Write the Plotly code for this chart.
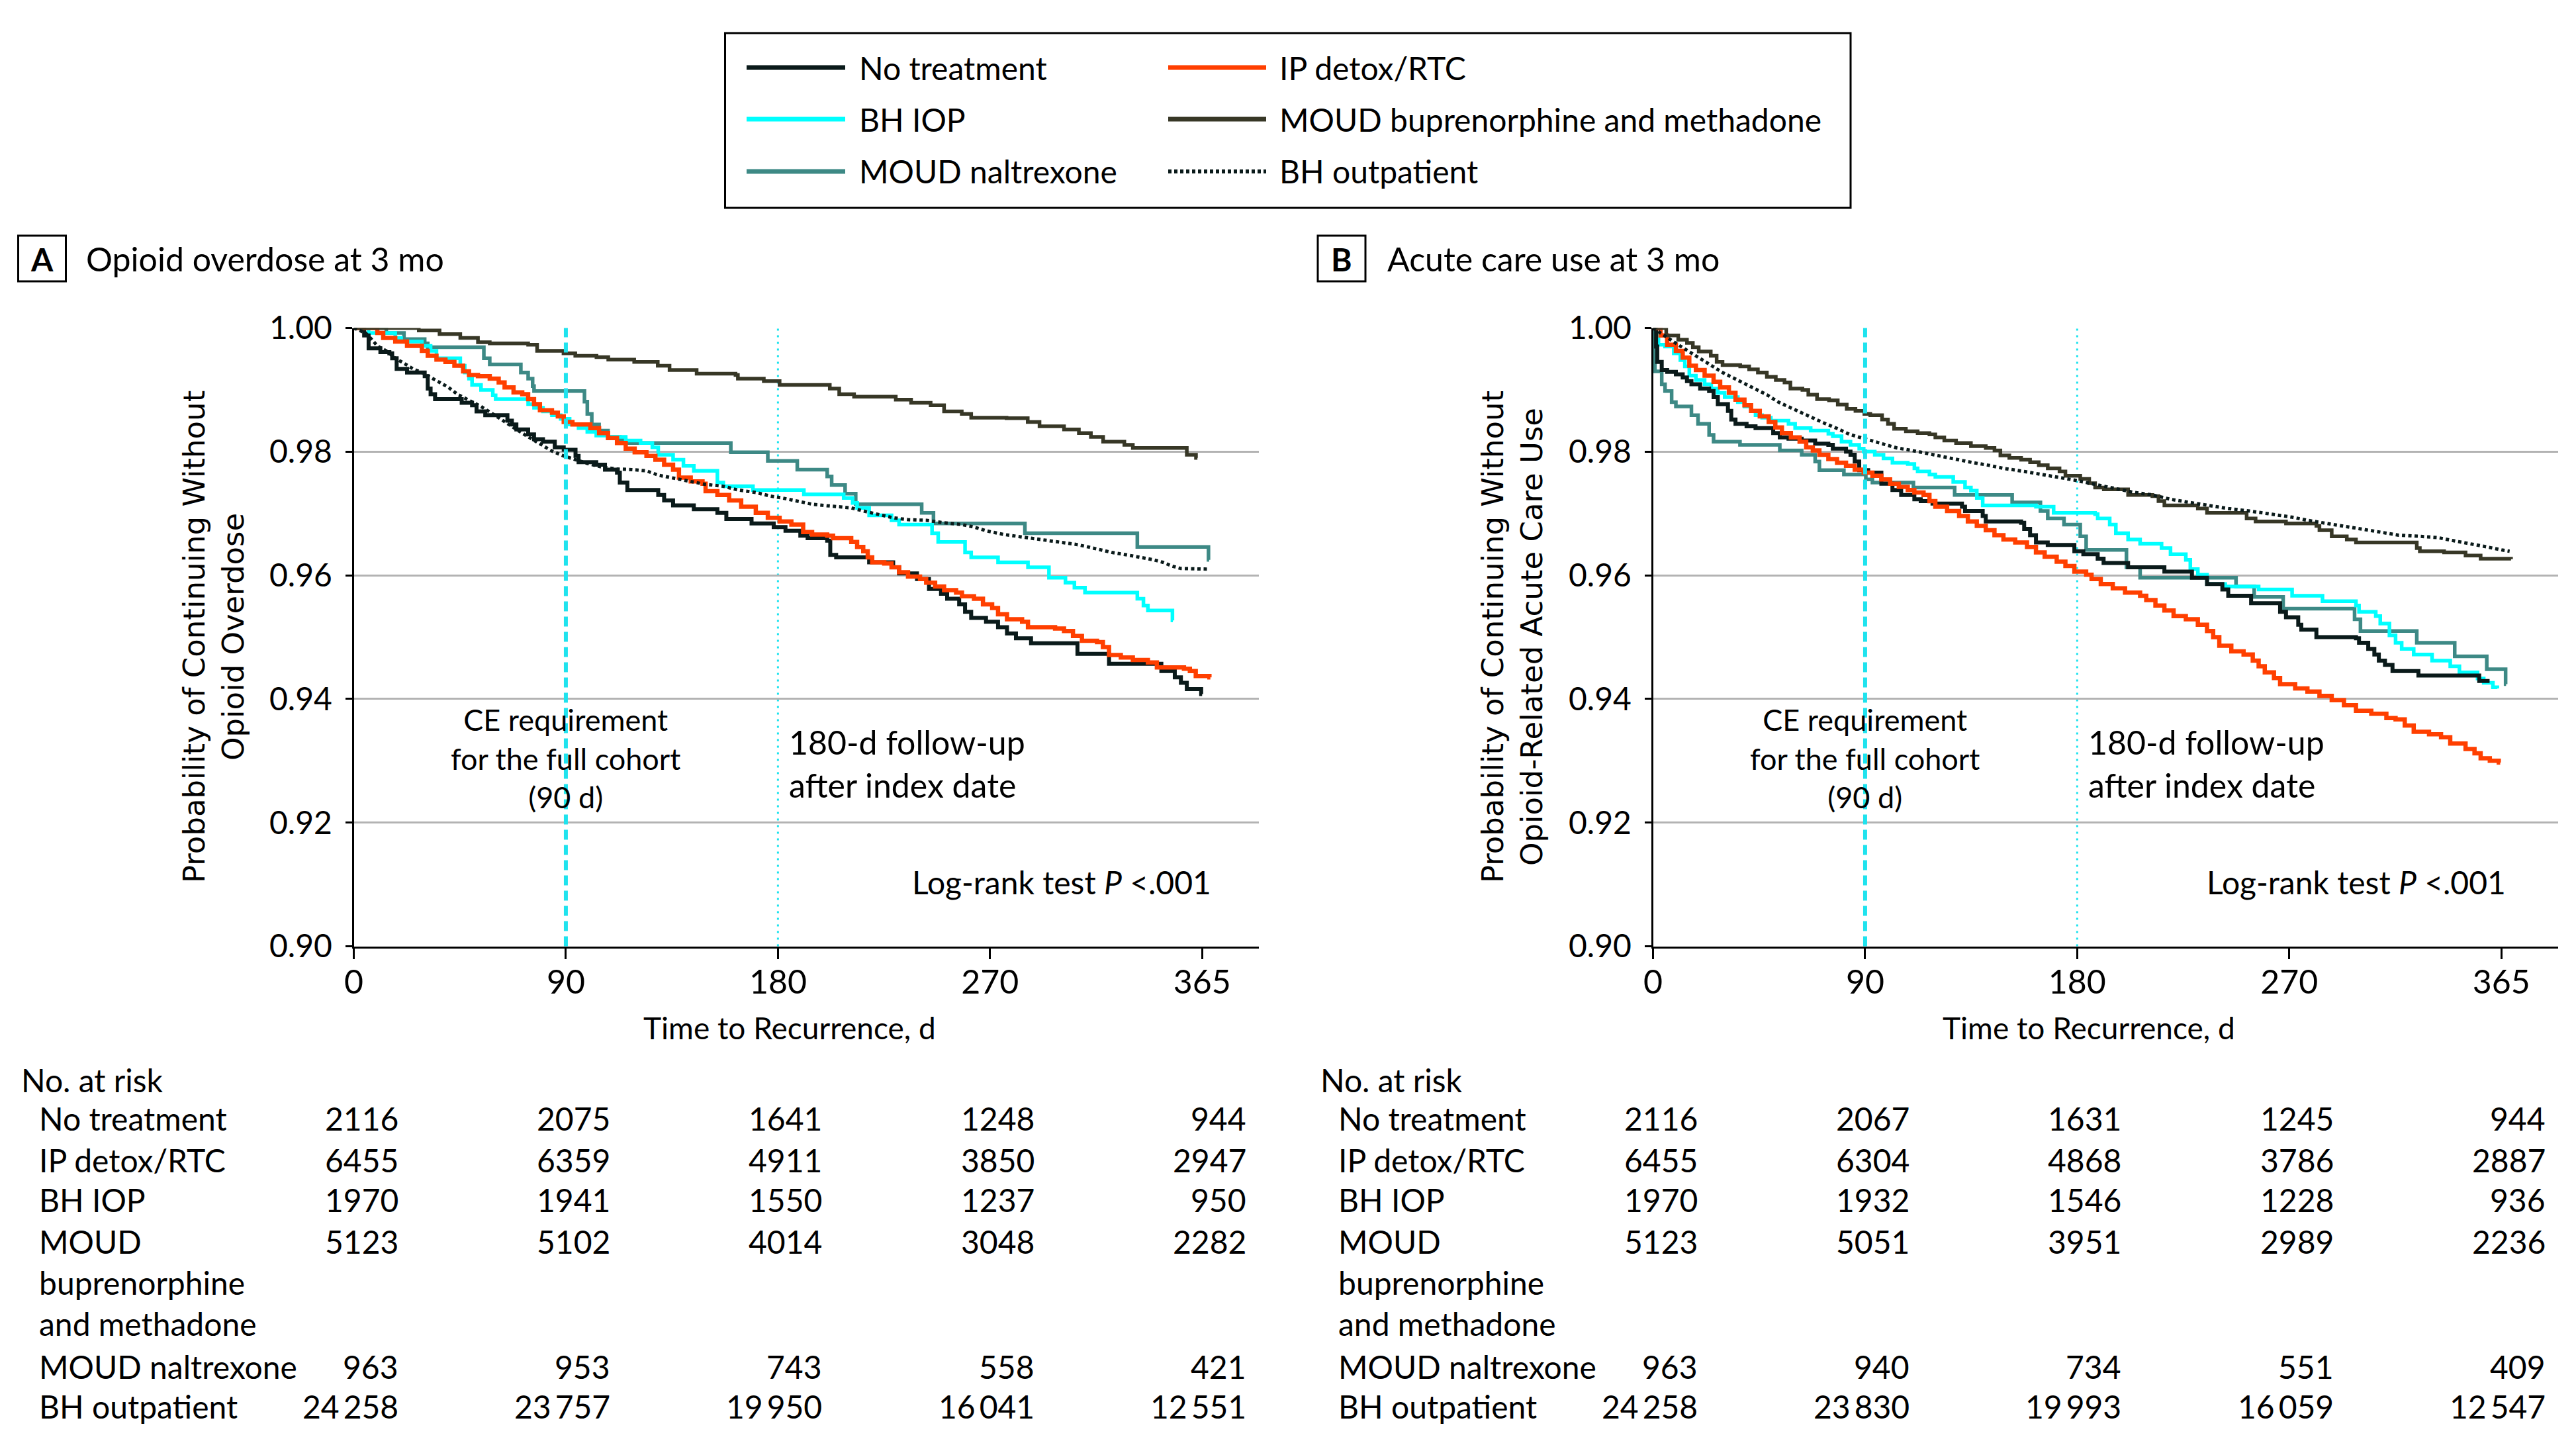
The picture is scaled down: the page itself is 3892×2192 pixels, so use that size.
import plotly.graph_objects as go

W, H = 3892, 2192
OFF = 8  # page offset of the figure inside the browser window

# ---------------- series meta ----------------
series_names = ["No treatment", "IP detox/RTC", "BH IOP",
                "MOUD buprenorphine and methadone", "MOUD naltrexone", "BH outpatient"]
series_colors = ["#0a1a1a", "#ff3f00", "#00ffff", "#373726", "#3d8985", "#0a1a1a"]

# ---------------- Panel A: opioid overdose (time in days, survival) ----------------
a_none_t = [0, 4.4, 6.3, 11.3, 15.1, 16.3, 18.2, 22.6, 30.1, 31.4, 32.6, 34.5, 45.8, 50.2, 52.1, 55.8,
            65.2, 67.1, 69.0, 74.0, 76.5, 80.3, 85.3, 89.1, 94.1, 95.4, 102.9, 106.6, 111.7, 112.9,
            116.1, 129.2, 131.7, 135.5, 144.3, 154.3, 158.1, 168.8, 178.2, 183.2, 189.5, 192.6,
            200.9, 202.2, 204.7, 218.7, 228.9, 231.4, 239.0, 244.1, 249.2, 251.8, 256.9, 259.4,
            262.0, 268.3, 273.4, 277.2, 281.0, 287.4, 307.1, 320.5, 342.7, 348.4, 351.0, 353.5,
            359.6, 360.0]
a_none_s = [1.0, 0.9988, 0.9967, 0.9961, 0.9959, 0.9951, 0.9934, 0.9928, 0.9922, 0.9902, 0.9893,
            0.9885, 0.9879, 0.9875, 0.9865, 0.9859, 0.9850, 0.9844, 0.9836, 0.9828, 0.9820, 0.9816,
            0.9807, 0.9803, 0.9793, 0.9783, 0.9779, 0.9771, 0.9766, 0.9750, 0.9738, 0.9730, 0.9721,
            0.9713, 0.9707, 0.9701, 0.9691, 0.9684, 0.9678, 0.9672, 0.9664, 0.9660, 0.9656, 0.9633,
            0.9629, 0.9621, 0.9613, 0.9603, 0.9594, 0.9578, 0.9570, 0.9562, 0.9553, 0.9541, 0.9531,
            0.9525, 0.9516, 0.9506, 0.9498, 0.9490, 0.9473, 0.9457, 0.9445, 0.9435, 0.9426, 0.9416,
            0.9408, 0.9408]

a_ip_t = [0, 10.0, 12.5, 17.6, 22.6, 28.9, 31.4, 35.1, 38.9, 42.7, 46.4, 48.9, 52.7, 57.7, 61.5,
          64.0, 67.8, 71.5, 74.0, 76.5, 79.0, 84.1, 86.6, 89.1, 92.8, 100.4, 104.1, 107.9, 111.7,
          115.4, 119.2, 124.2, 128.0, 131.7, 135.5, 138.0, 143.0, 148.0, 149.3, 154.3, 159.3, 164.4,
          170.6, 175.7, 180.7, 185.7, 190.7, 194.5, 200.9, 203.4, 211.1, 213.6, 216.2, 218.1, 220.0,
          225.1, 228.2, 231.4, 235.2, 240.3, 242.9, 246.7, 250.5, 255.6, 258.1, 263.2, 267.0, 270.9,
          273.4, 277.2, 283.6, 286.1, 297.6, 301.4, 305.2, 309.0, 315.4, 317.9, 320.5, 325.5, 330.6,
          337.0, 340.8, 352.3, 354.8, 357.3, 363.1, 363.5]
a_ip_s = [1.0, 0.9992, 0.9984, 0.9978, 0.9971, 0.9963, 0.9955, 0.9949, 0.9945, 0.9939, 0.9930,
          0.9924, 0.9922, 0.9918, 0.9912, 0.9904, 0.9896, 0.9893, 0.9885, 0.9877, 0.9867, 0.9863,
          0.9857, 0.9848, 0.9844, 0.9838, 0.9830, 0.9822, 0.9814, 0.9805, 0.9799, 0.9793, 0.9787,
          0.9779, 0.9771, 0.9758, 0.9752, 0.9748, 0.9736, 0.9730, 0.9721, 0.9711, 0.9701, 0.9693,
          0.9687, 0.9682, 0.9670, 0.9666, 0.9664, 0.9660, 0.9654, 0.9646, 0.9639, 0.9629, 0.9621,
          0.9619, 0.9613, 0.9605, 0.9598, 0.9594, 0.9588, 0.9582, 0.9576, 0.9572, 0.9566, 0.9562,
          0.9553, 0.9547, 0.9537, 0.9529, 0.9525, 0.9516, 0.9514, 0.9510, 0.9502, 0.9494, 0.9492,
          0.9484, 0.9471, 0.9467, 0.9463, 0.9459, 0.9451, 0.9449, 0.9445, 0.9437, 0.9435, 0.9435]

a_iop_t = [0, 6.3, 17.6, 20.1, 28.9, 32.6, 35.1, 45.2, 47.1, 48.9, 50.2, 54.0, 59.0, 60.2, 74.0,
           76.5, 80.3, 84.1, 87.8, 91.6, 95.4, 99.1, 102.9, 107.9, 115.4, 121.7, 126.7, 129.2, 135.5,
           139.9, 144.3, 154.3, 156.8, 169.4, 191.0, 207.9, 211.7, 213.6, 218.7, 228.2, 231.4, 245.4,
           248.0, 259.4, 262.0, 273.4, 286.1, 295.0, 302.0, 305.8, 310.3, 332.5, 335.1, 337.0, 347.4,
           347.6]
a_iop_s = [1.0, 0.9992, 0.9984, 0.9978, 0.9971, 0.9963, 0.9951, 0.9939, 0.9928, 0.9918, 0.9908,
           0.9900, 0.9891, 0.9885, 0.9877, 0.9871, 0.9865, 0.9859, 0.9853, 0.9844, 0.9838, 0.9832,
           0.9826, 0.9824, 0.9818, 0.9814, 0.9807, 0.9795, 0.9787, 0.9777, 0.9769, 0.9750, 0.9744,
           0.9738, 0.9731, 0.9725, 0.9717, 0.9709, 0.9697, 0.9689, 0.9682, 0.9668, 0.9654, 0.9637,
           0.9629, 0.9621, 0.9613, 0.9596, 0.9588, 0.9580, 0.9572, 0.9562, 0.9551, 0.9543, 0.9527,
           0.9527]

a_bup_t = [0, 27.6, 36.4, 45.2, 52.7, 57.7, 74.0, 77.8, 89.0, 94.0, 103.0, 108.0, 119.0, 129.0,
           134.0, 145.5, 162.0, 163.0, 174.0, 180.7, 202.0, 206.0, 212.3, 230.0, 236.5, 244.8, 250.5,
           258.0, 262.0, 277.0, 286.0, 291.0, 301.4, 307.7, 312.8, 318.0, 327.0, 330.6, 353.5, 357.4,
           358.0]
a_bup_s = [1.0, 0.9996, 0.9990, 0.9984, 0.9977, 0.9975, 0.9973, 0.9963, 0.9959, 0.9955, 0.9953,
           0.9949, 0.9945, 0.9939, 0.9932, 0.9926, 0.9924, 0.9918, 0.9914, 0.9908, 0.9902, 0.9893,
           0.9889, 0.9884, 0.9879, 0.9875, 0.9865, 0.9861, 0.9855, 0.9854, 0.9848, 0.9841, 0.9836,
           0.9830, 0.9824, 0.9816, 0.9811, 0.9806, 0.9795, 0.9790, 0.9790]

a_nal_t = [0, 13.8, 21.3, 30.1, 31.4, 55.2, 57.7, 70.9, 74.0, 75.9, 76.5, 97.9, 99.1, 101.0, 104.1,
           107.9, 112.9, 115.4, 160.0, 175.7, 188.2, 200.9, 202.8, 208.5, 213.0, 241.0, 246.0, 284.8,
           332.5, 362.7, 363.0]
a_nal_s = [1.0, 0.9992, 0.9982, 0.9975, 0.9969, 0.9951, 0.9941, 0.9928, 0.9918, 0.9906, 0.9898,
           0.9881, 0.9861, 0.9844, 0.9834, 0.9824, 0.9820, 0.9814, 0.9799, 0.9785, 0.9771, 0.9760,
           0.9746, 0.9732, 0.9715, 0.9701, 0.9684, 0.9668, 0.9646, 0.9625, 0.9625]

a_out_t = [0, 5.0, 7.5, 10.0, 13.8, 17.6, 21.3, 25.1, 28.9, 32.6, 36.4, 40.2, 43.9, 48.9, 54.0, 59.0,
           64.0, 69.0, 74.0, 79.0, 84.1, 89.1, 94.1, 99.1, 105.4, 111.7, 117.9, 124.2, 129.2, 134.3,
           139.3, 144.3, 149.3, 156.8, 163.1, 170.6, 176.9, 181.9, 189.5, 194.5, 199.6, 206.0, 211.1,
           217.4, 222.5, 228.9, 235.2, 242.9, 250.5, 258.1, 263.2, 268.3, 275.9, 283.6, 291.2, 298.8,
           306.5, 311.5, 316.6, 321.7, 328.1, 334.5, 339.5, 343.4, 347.2, 351.0, 362.4]
a_out_s = [1.0, 0.9992, 0.9982, 0.9971, 0.9963, 0.9951, 0.9943, 0.9934, 0.9928, 0.9920, 0.9912,
           0.9904, 0.9893, 0.9883, 0.9873, 0.9861, 0.9848, 0.9836, 0.9824, 0.9812, 0.9801, 0.9793,
           0.9787, 0.9781, 0.9775, 0.9772, 0.9771, 0.9769, 0.9762, 0.9758, 0.9754, 0.9750, 0.9747,
           0.9744, 0.9738, 0.9734, 0.9728, 0.9725, 0.9719, 0.9715, 0.9713, 0.9711, 0.9709, 0.9703,
           0.9699, 0.9693, 0.9690, 0.9689, 0.9685, 0.9682, 0.9678, 0.9672, 0.9666, 0.9662, 0.9658,
           0.9654, 0.9650, 0.9646, 0.9641, 0.9637, 0.9633, 0.9629, 0.9625, 0.9621, 0.9615, 0.9611,
           0.9610]

# ---------------- Panel B: acute care use ----------------
b_none_t = [0, 1.3, 1.8, 3.7, 6.0, 9.7, 12.6, 14.4, 16.3, 20.0, 23.8, 25.7, 27.5, 31.8, 33.2, 35.0,
            39.7, 43.5, 51.0, 53.8, 57.5, 63.1, 68.8, 74.4, 76.3, 81.9, 83.8, 85.6, 87.5, 91.3, 96.9,
            101.6, 105.3, 110.9, 113.6, 118.6, 131.1, 132.4, 139.9, 141.2, 156.2, 157.5, 160.0,
            162.5, 167.5, 178.8, 182.6, 188.7, 191.2, 201.6, 217.0, 228.7, 235.1, 241.6, 244.1,
            253.8, 266.1, 268.6, 273.8, 275.1, 281.5, 298.3, 299.6, 303.5, 306.1, 308.0, 310.6,
            313.8, 324.8, 350.6, 355.0]
b_none_s = [1.0, 0.9970, 0.9945, 0.9932, 0.9929, 0.9925, 0.9920, 0.9914, 0.9909, 0.9902, 0.9898,
            0.9888, 0.9877, 0.9866, 0.9852, 0.9845, 0.9841, 0.9838, 0.9830, 0.9823, 0.9821, 0.9818,
            0.9813, 0.9811, 0.9805, 0.9800, 0.9795, 0.9784, 0.9770, 0.9766, 0.9748, 0.9738, 0.9730,
            0.9723, 0.9720, 0.9716, 0.9711, 0.9704, 0.9696, 0.9687, 0.9685, 0.9675, 0.9665, 0.9653,
            0.9649, 0.9639, 0.9634, 0.9627, 0.9620, 0.9613, 0.9606, 0.9596, 0.9586, 0.9577, 0.9567,
            0.9555, 0.9541, 0.9532, 0.9520, 0.9512, 0.9500, 0.9498, 0.9491, 0.9481, 0.9472, 0.9462,
            0.9455, 0.9445, 0.9438, 0.9429, 0.9429]

b_ip_t = [0, 3.2, 6.0, 9.7, 12.6, 15.4, 18.2, 21.9, 25.7, 28.5, 32.2, 35.0, 38.8, 41.6, 45.3, 49.1,
          51.9, 54.7, 58.5, 62.2, 65.0, 67.8, 70.6, 74.4, 78.1, 81.9, 85.6, 89.4, 93.1, 96.9, 100.6,
          104.3, 108.1, 110.9, 114.8, 117.3, 119.8, 124.8, 129.9, 133.6, 137.4, 141.2, 144.9, 148.7,
          153.7, 158.7, 162.5, 166.2, 171.3, 175.0, 178.8, 183.8, 186.1, 190.0, 195.1, 200.3, 206.7,
          209.3, 213.2, 217.0, 220.9, 226.1, 231.2, 235.1, 237.7, 240.3, 245.4, 250.6, 254.5, 257.0,
          259.6, 263.5, 266.1, 272.5, 277.7, 282.8, 288.0, 293.2, 298.3, 304.8, 311.2, 315.1, 319.0,
          322.8, 329.3, 334.4, 338.3, 344.8, 348.6, 351.2, 355.1, 358.9, 359.5]
b_ip_s = [1.0, 0.9988, 0.9973, 0.9963, 0.9952, 0.9939, 0.9932, 0.9923, 0.9913, 0.9904, 0.9895,
          0.9884, 0.9875, 0.9866, 0.9857, 0.9848, 0.9839, 0.9830, 0.9823, 0.9816, 0.9807, 0.9802,
          0.9795, 0.9788, 0.9782, 0.9777, 0.9771, 0.9766, 0.9761, 0.9755, 0.9748, 0.9743, 0.9738,
          0.9734, 0.9730, 0.9720, 0.9711, 0.9704, 0.9696, 0.9687, 0.9680, 0.9673, 0.9665, 0.9658,
          0.9653, 0.9646, 0.9637, 0.9630, 0.9622, 0.9615, 0.9606, 0.9601, 0.9594, 0.9586, 0.9579,
          0.9572, 0.9567, 0.9560, 0.9551, 0.9543, 0.9534, 0.9529, 0.9520, 0.9510, 0.9500, 0.9486,
          0.9477, 0.9472, 0.9462, 0.9453, 0.9443, 0.9434, 0.9424, 0.9417, 0.9412, 0.9405, 0.9398,
          0.9390, 0.9381, 0.9376, 0.9369, 0.9367, 0.9357, 0.9347, 0.9343, 0.9338, 0.9328, 0.9319,
          0.9312, 0.9304, 0.9300, 0.9297, 0.9297]

b_iop_t = [0, 1.3, 2.3, 5.1, 8.8, 11.6, 13.5, 15.4, 18.2, 21.9, 24.7, 27.5, 30.4, 36.0, 38.8, 41.6,
           43.5, 46.3, 50.0, 57.5, 60.3, 66.9, 74.4, 76.3, 80.0, 83.8, 87.5, 89.4, 94.1, 97.8, 101.6,
           108.1, 110.9, 112.3, 117.3, 119.8, 127.4, 132.4, 134.9, 137.4, 139.9, 162.5, 170.0, 187.6,
           188.7, 193.8, 196.4, 201.6, 206.7, 215.8, 219.6, 226.1, 228.0, 231.2, 235.1, 242.8, 257.0,
           271.2, 284.1, 298.3, 299.6, 306.7, 308.6, 312.5, 315.1, 317.7, 322.8, 330.6, 338.3, 342.2,
           349.9, 352.5, 356.4, 358.3]
b_iop_s = [1.0, 0.9988, 0.9973, 0.9970, 0.9959, 0.9948, 0.9938, 0.9923, 0.9916, 0.9909, 0.9902,
           0.9895, 0.9888, 0.9880, 0.9873, 0.9866, 0.9859, 0.9855, 0.9850, 0.9845, 0.9838, 0.9834,
           0.9829, 0.9825, 0.9816, 0.9811, 0.9805, 0.9800, 0.9795, 0.9789, 0.9782, 0.9780, 0.9773,
           0.9768, 0.9763, 0.9759, 0.9751, 0.9742, 0.9737, 0.9725, 0.9713, 0.9711, 0.9701, 0.9699,
           0.9692, 0.9682, 0.9668, 0.9658, 0.9651, 0.9644, 0.9634, 0.9625, 0.9610, 0.9601, 0.9586,
           0.9582, 0.9577, 0.9567, 0.9558, 0.9551, 0.9541, 0.9534, 0.9522, 0.9503, 0.9491, 0.9481,
           0.9472, 0.9462, 0.9453, 0.9443, 0.9433, 0.9426, 0.9419, 0.9417]

b_bup_t = [0, 5.6, 10.7, 14.4, 16.9, 19.4, 24.5, 27.0, 29.5, 37.0, 40.8, 44.5, 48.3, 52.1, 55.8,
           58.3, 63.4, 65.9, 69.6, 74.7, 78.4, 82.2, 85.9, 89.7, 92.2, 97.2, 99.7, 102.3, 107.3,
           112.3, 117.3, 119.8, 123.6, 128.6, 134.9, 141.2, 144.9, 147.4, 151.2, 156.2, 160.0, 163.7,
           167.5, 172.5, 175.0, 181.3, 185.1, 187.6, 191.3, 201.6, 211.9, 214.5, 217.0, 231.2, 235.1,
           251.9, 255.7, 268.6, 281.5, 282.8, 288.0, 294.4, 298.3, 324.1, 325.4, 335.7, 344.8, 351.2,
           364.1]
b_bup_s = [1.0, 0.9988, 0.9981, 0.9976, 0.9969, 0.9962, 0.9955, 0.9945, 0.9940, 0.9938, 0.9933,
           0.9928, 0.9921, 0.9916, 0.9912, 0.9902, 0.9900, 0.9892, 0.9885, 0.9883, 0.9876, 0.9869,
           0.9866, 0.9861, 0.9859, 0.9852, 0.9845, 0.9837, 0.9833, 0.9830, 0.9828, 0.9823, 0.9818,
           0.9814, 0.9809, 0.9806, 0.9802, 0.9794, 0.9790, 0.9787, 0.9783, 0.9778, 0.9773, 0.9768,
           0.9761, 0.9756, 0.9749, 0.9742, 0.9739, 0.9730, 0.9728, 0.9720, 0.9713, 0.9708, 0.9701,
           0.9692, 0.9687, 0.9684, 0.9680, 0.9673, 0.9663, 0.9658, 0.9653, 0.9644, 0.9639, 0.9637,
           0.9632, 0.9627, 0.9626]

b_nal_t = [0, 0.8, 3.7, 5.1, 7.9, 9.7, 16.3, 19.1, 23.8, 25.7, 36.9, 53.8, 63.1, 68.8, 70.6, 81.0,
           90.3, 93.1, 110.5, 128.0, 152.4, 164.4, 167.5, 174.4, 181.3, 183.8, 200.9, 206.7, 247.4,
           255.1, 267.4, 297.7, 300.2, 324.1, 340.2, 353.8, 361.8, 362.0]
b_nal_s = [1.0, 0.9930, 0.9909, 0.9898, 0.9880, 0.9873, 0.9859, 0.9845, 0.9827, 0.9816, 0.9811,
           0.9802, 0.9795, 0.9784, 0.9770, 0.9763, 0.9755, 0.9750, 0.9742, 0.9730, 0.9718, 0.9704,
           0.9692, 0.9682, 0.9663, 0.9641, 0.9613, 0.9596, 0.9582, 0.9565, 0.9546, 0.9529, 0.9510,
           0.9491, 0.9469, 0.9448, 0.9424, 0.9424]

b_out_t = [0, 4.4, 9.4, 14.4, 19.4, 24.5, 29.5, 35.8, 42.0, 48.3, 53.3, 59.6, 65.9, 72.1, 78.4, 83.4,
           89.7, 96.0, 103.5, 109.8, 116.0, 123.6, 129.9, 136.1, 142.4, 148.7, 157.5, 165.0, 172.5,
           178.8, 185.1, 193.8, 202.9, 211.9, 219.6, 227.4, 235.1, 244.1, 253.2, 263.5, 271.2, 277.7,
           285.4, 293.2, 299.6, 307.3, 316.4, 325.4, 333.1, 339.6, 347.3, 353.8, 360.2, 363.5]
b_out_s = [1.0, 0.9988, 0.9976, 0.9964, 0.9952, 0.9940, 0.9928, 0.9916, 0.9904, 0.9892, 0.9880,
           0.9869, 0.9857, 0.9847, 0.9837, 0.9828, 0.9821, 0.9814, 0.9806, 0.9802, 0.9797, 0.9792,
           0.9787, 0.9782, 0.9778, 0.9773, 0.9768, 0.9763, 0.9759, 0.9754, 0.9749, 0.9742, 0.9735,
           0.9730, 0.9723, 0.9718, 0.9713, 0.9708, 0.9704, 0.9699, 0.9694, 0.9689, 0.9684, 0.9680,
           0.9675, 0.9670, 0.9665, 0.9663, 0.9661, 0.9656, 0.9651, 0.9646, 0.9641, 0.9639]

# ---------------- axis ticks ----------------
# the last tick, labelled "365", sits where day 360 falls on the drawn scale (as in the source figure)
x_ticks = [0, 90, 180, 270, 360]
x_tick_text = ["0", "90", "180", "270", "365"]
y_ticks = [0.90, 0.92, 0.94, 0.96, 0.98, 1.00]

# ---------------- number at risk ----------------
risk_times = x_ticks
risk_a = [[2116, 2075, 1641, 1248, 944],
          [6455, 6359, 4911, 3850, 2947],
          [1970, 1941, 1550, 1237, 950],
          [5123, 5102, 4014, 3048, 2282],
          [963, 953, 743, 558, 421],
          [24258, 23757, 19950, 16041, 12551]]
risk_b = [[2116, 2067, 1631, 1245, 944],
          [6455, 6304, 4868, 3786, 2887],
          [1970, 1932, 1546, 1228, 936],
          [5123, 5051, 3951, 2989, 2236],
          [963, 940, 734, 551, 409],
          [24258, 23830, 19993, 16059, 12547]]
risk_row_labels = ["No treatment", "IP detox/RTC", "BH IOP", "MOUD", "buprenorphine",
                   "and methadone", "MOUD naltrexone", "BH outpatient"]
risk_series_row = [0, 1, 2, 3, 6, 7]

# ---------------- styling ----------------
FONT = "Lato, 'Liberation Sans', Arial, sans-serif"
TITLE_FONT = "'DejaVu Sans', Verdana, sans-serif"
REF_CYAN = "#1fe3ee"
styles = [
    dict(width=6, dash="solid", shape="hv"),
    dict(width=6.5, dash="solid", shape="hv"),
    dict(width=5.5, dash="solid", shape="hv"),
    dict(width=5.5, dash="solid", shape="hv"),
    dict(width=5.5, dash="solid", shape="hv"),
    dict(width=5, dash="5px,4.5px", shape="linear"),
]
draw_order = [4, 2, 0, 1, 3, 5]


def px(x):
    return (x - OFF) / W


def py(y):
    return 1 - (y - OFF) / H


panel_data = [
    ("x", "y", [(a_none_t, a_none_s), (a_ip_t, a_ip_s), (a_iop_t, a_iop_s),
                (a_bup_t, a_bup_s), (a_nal_t, a_nal_s), (a_out_t, a_out_s)]),
    ("x2", "y2", [(b_none_t, b_none_s), (b_ip_t, b_ip_s), (b_iop_t, b_iop_s),
                  (b_bup_t, b_bup_s), (b_nal_t, b_nal_s), (b_out_t, b_out_s)]),
]

fig = go.Figure()
for xa, ya, data in panel_data:
    for i in draw_order:
        t, s = data[i]
        assert len(t) == len(s), (xa, i, len(t), len(s))
        st = styles[i]
        fig.add_trace(go.Scatter(
            x=t, y=s, mode="lines", name=series_names[i], xaxis=xa, yaxis=ya,
            line=dict(color=series_colors[i], width=st["width"], dash=st["dash"], shape=st["shape"]),
            showlegend=False, hoverinfo="skip"))

x_domains = [[px(534.5), px(1901.7)], [px(2497.5), px(3864.7)]]
y_domain = [py(1429.5), py(495.5)]

axis_x = dict(range=[0, 384], tickmode="array", tickvals=x_ticks, ticktext=x_tick_text,
              ticks="outside", ticklen=16, tickwidth=3, tickcolor="black", showline=True,
              linecolor="black", linewidth=3, showgrid=False, zeroline=False,
              tickfont=dict(family=FONT, size=50, color="black"),
              ticklabelstandoff=-8, fixedrange=True, automargin=False)
axis_y = dict(range=[0.90, 1.00], tickmode="array", tickvals=y_ticks, tickformat=".2f",
              ticks="outside", ticklen=10, tickwidth=3, tickcolor="black", showline=True,
              linecolor="black", linewidth=3, showgrid=True, gridcolor="#b3b3b3", gridwidth=3,
              zeroline=False, tickfont=dict(family=FONT, size=48, color="black"),
              ticklabelstandoff=10, fixedrange=True, automargin=False)

fig.update_layout(
    width=W, height=H, margin=dict(l=0, r=0, t=0, b=0, pad=0, autoexpand=False),
    paper_bgcolor="white", plot_bgcolor="white", showlegend=False,
    font=dict(family=FONT, size=48, color="black"),
    xaxis=dict(domain=x_domains[0], anchor="y", **axis_x),
    yaxis=dict(domain=y_domain, anchor="x", **axis_y),
    xaxis2=dict(domain=x_domains[1], anchor="y2", **axis_x),
    yaxis2=dict(domain=y_domain, anchor="x2", **axis_y),
)

shapes = []
annotations = []

panel_info = [
    dict(xref="x", yref="y", letter="A", title="Opioid overdose at 3 mo",
         box=(27.5, 99.5), title_x=128,
         ytitle="Probability of Continuing Without<br>Opioid Overdose", ytitle_x=323.5,
         label_x=57, noatrisk_x=30, risk=risk_a, logrank_x=364.5),
    dict(xref="x2", yref="y2", letter="B", title="Acute care use at 3 mo",
         box=(1991, 2063), title_x=2094,
         ytitle="Probability of Continuing Without<br>Opioid-Related Acute Care Use", ytitle_x=2285.6,
         label_x=2020, noatrisk_x=1993, risk=risk_b, logrank_x=362.5),
]

row_y = [1689, 1752, 1812, 1875, 1937, 2000, 2064, 2124.5]
RISK_SHIFT = 69

for p in panel_info:
    xr, yr = p["xref"], p["yref"]
    # reference lines at 90 and 180 days
    shapes.append(dict(type="line", xref=xr, yref=yr + " domain", x0=90, x1=90, y0=0, y1=1,
                       line=dict(color=REF_CYAN, width=6, dash="15px,8px"), layer="above"))
    shapes.append(dict(type="line", xref=xr, yref=yr + " domain", x0=180, x1=180, y0=0, y1=1,
                       line=dict(color=REF_CYAN, width=3, dash="3px,7px"), layer="below"))
    # panel letter box + title
    shapes.append(dict(type="rect", xref="paper", yref="paper", x0=px(p["box"][0]), x1=px(p["box"][1]),
                       y0=py(425), y1=py(356), line=dict(color="black", width=3)))
    annotations.append(dict(xref="paper", yref="paper", x=px((p["box"][0] + p["box"][1]) / 2), y=py(391),
                            text="<b>" + p["letter"] + "</b>", showarrow=False, xanchor="center",
                            yanchor="middle", font=dict(family=FONT, size=48)))
    annotations.append(dict(xref="paper", yref="paper", x=px(p["title_x"]), y=py(391), text=p["title"],
                            showarrow=False, xanchor="left", yanchor="middle",
                            font=dict(family=FONT, size=50)))
    # axis titles
    annotations.append(dict(xref="paper", yref="paper", x=px(p["ytitle_x"]), y=py(962.5),
                            text=p["ytitle"], textangle=-90, showarrow=False, xanchor="center",
                            yanchor="middle", font=dict(family=TITLE_FONT, size=45)))
    annotations.append(dict(xref=xr, yref="paper", x=185, y=py(1552), text="Time to Recurrence, d",
                            showarrow=False, xanchor="center", yanchor="middle",
                            font=dict(family=FONT, size=46)))
    # in-plot notes
    annotations.append(dict(xref=xr, yref=yr, x=90, y=0.9304,
                            text="CE requirement<br>for the full cohort<br>(90 d)", showarrow=False,
                            xanchor="center", yanchor="middle", font=dict(family=FONT, size=45)))
    annotations.append(dict(xref=xr, yref=yr, x=184.1, y=0.9296,
                            text="180-d follow-up<br>after index date", showarrow=False, align="left",
                            xanchor="left", yanchor="middle", font=dict(family=FONT, size=50)))
    annotations.append(dict(xref=xr, yref=yr, x=p["logrank_x"], y=0.9104,
                            text="Log-rank test <i>P</i> <.001", showarrow=False,
                            xanchor="right", yanchor="middle", font=dict(family=FONT, size=48)))
    # number at risk table
    annotations.append(dict(xref="paper", yref="paper", x=px(p["noatrisk_x"]), y=py(1631),
                            text="No. at risk", showarrow=False, xanchor="left", yanchor="middle",
                            font=dict(family=FONT, size=48)))
    for r, lab in enumerate(risk_row_labels):
        annotations.append(dict(xref="paper", yref="paper", x=px(p["label_x"]), y=py(row_y[r]),
                                text=lab, showarrow=False, xanchor="left", yanchor="middle",
                                font=dict(family=FONT, size=48)))
    for si, vals in enumerate(p["risk"]):
        r = risk_series_row[si]
        for ci, v in enumerate(vals):
            txt = f"{v:,}".replace(",", "\u2009") if v >= 10000 else str(v)
            annotations.append(dict(xref=xr, yref="paper", x=risk_times[ci], y=py(row_y[r]),
                                    xshift=RISK_SHIFT, text=txt, showarrow=False,
                                    xanchor="right", yanchor="middle",
                                    font=dict(family=FONT, size=48)))

# ---------------- legend (drawn) ----------------
shapes.append(dict(type="rect", xref="paper", yref="paper", x0=px(1095.5), x1=px(2796),
                   y0=py(314), y1=py(50), line=dict(color="black", width=3)))
leg_rows = [102, 180, 259]
leg_cols = [(1128, 1277, 1296), (1765, 1913, 1931)]
for i, name in enumerate(series_names):
    r, c = i // 2, i % 2
    x0, x1, xt = leg_cols[c]
    st = styles[i]
    shapes.append(dict(type="line", xref="paper", yref="paper", x0=px(x0), x1=px(x1),
                       y0=py(leg_rows[r]), y1=py(leg_rows[r]),
                       line=dict(color=series_colors[i], width=7 if st["dash"] == "solid" else 6,
                                 dash="solid" if st["dash"] == "solid" else "5px,4px")))
    annotations.append(dict(xref="paper", yref="paper", x=px(xt), y=py(leg_rows[r]), text=name,
                            showarrow=False, xanchor="left", yanchor="middle",
                            font=dict(family=FONT, size=48)))

fig.update_layout(shapes=shapes, annotations=annotations)
fig.write_html("out.html")
